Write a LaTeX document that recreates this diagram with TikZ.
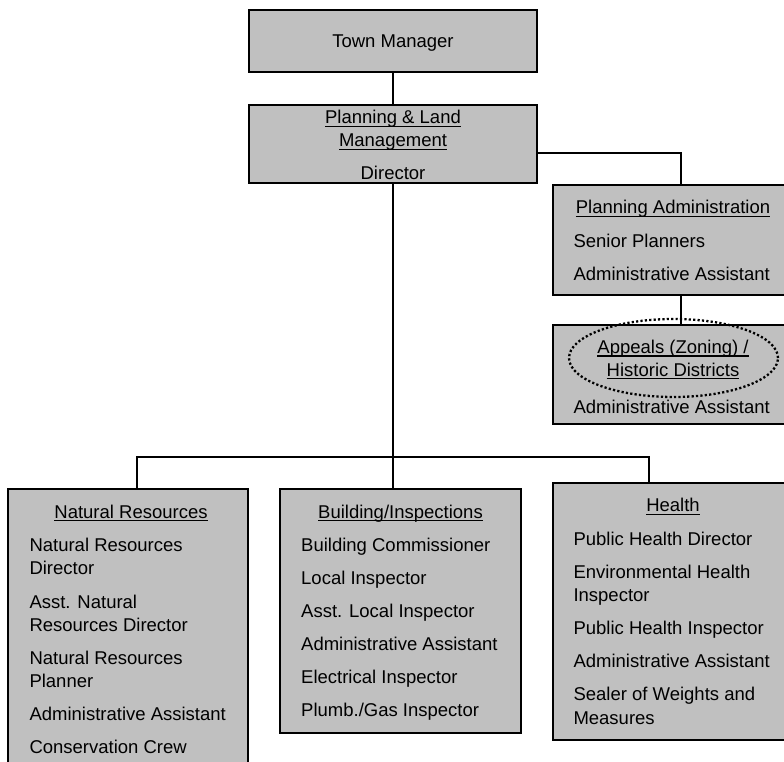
\documentclass[tikz,border=0pt]{standalone}
\usepackage{fontspec}
\setmainfont{Liberation Sans}
\usetikzlibrary{shapes.geometric}
\definecolor{boxgray}{RGB}{192,192,192}
\newsavebox\ulbox
\newcommand\myul[1]{\sbox\ulbox{#1}\rlap{\rule[-3.3pt]{\wd\ulbox}{1.5pt}}\usebox\ulbox}
\begin{document}
\begin{tikzpicture}[x=1pt,y=-1pt,
  box/.style={draw=black, fill=boxgray, line width=1.8pt, inner sep=0pt, rectangle},
  conn/.style={line width=1.8pt, draw=black},
  txt/.style={inner sep=0pt, anchor=base west, font=\fontsize{18.5}{23}\selectfont},
  ctxt/.style={inner sep=0pt, anchor=base, font=\fontsize{18.5}{23}\selectfont},
  dotring/.style={draw=black, ellipse, line width=2.3pt, dash pattern=on 2.2pt off 2.2pt, inner sep=0pt}
  ]
\useasboundingbox (0,0) rectangle (784,762);
\clip (0,0) rectangle (784,762);
\fill[white] (0,0) rectangle (784,762);

% boxes
\node[box, minimum width=288, minimum height=62] (tm) at (393,41) {};
\node[box, minimum width=288, minimum height=78] (plm) at (393,144) {};
\node[box, minimum width=256, minimum height=110] (pa) at (681,240) {};
\node[box, minimum width=256, minimum height=99] (ap) at (681,374.5) {};
\node[box, minimum width=240, minimum height=286] (nr) at (128,632) {};
\node[box, minimum width=241, minimum height=244] (bi) at (400.5,611) {};
\node[box, minimum width=240, minimum height=257] (he) at (673,611.5) {};

% connectors
\coordinate (j) at (393,457);
\draw[conn] (tm.south) -- (plm.north);
\draw[conn] ([yshift=-9pt]plm.east) -| (pa.north);
\draw[conn] (pa.south) -- (ap.north);
\draw[conn] (plm.south) -- (plm.south |- bi.north);
\draw[conn] ([xshift=9pt]nr.north) |- (j) -| ([xshift=-24pt]he.north);

% Town Manager
\node[ctxt] (tmt) at (393,48) {Town Manager};
% Planning & Land Management
\node[ctxt] (plm1) at (393,124) {\myul{Planning \& Land}};
\node[ctxt] (plm2) at (393,147) {\myul{Management}};
\node[ctxt] (plm3) at (393,180) {Director};
% Planning Administration
\node[ctxt] (pa0) at (673,214) {\myul{Planning Administration}};
\node[txt] (pa1) at (573.3,247) {Senior Planners};
\node[txt] (pa2) at (573.3,280) {Administrative Assistant};
% Appeals
\node[ctxt] (ap0) at (673,353.5) {\myul{Appeals (Zoning) /}};
\node[ctxt] (ap1) at (673,376) {\myul{Historic Districts}};
\node[txt] (ap2) at (573.3,413) {Administrative Assistant};
\node[dotring, minimum width=209, minimum height=78] (ring) at (673.5,358) {};
% Natural Resources
\node[ctxt] (nr0) at (131,518) {\myul{Natural Resources}};
\node[txt] (nr1) at (29.3,551.5) {Natural Resources};
\node[txt] (nr2) at (29.3,574.5) {Director};
\node[txt] (nr3) at (29.3,608) {Asst. Natural};
\node[txt] (nr4) at (29.3,631) {Resources Director};
\node[txt] (nr5) at (29.3,664) {Natural Resources};
\node[txt] (nr6) at (29.3,687) {Planner};
\node[txt] (nr7) at (29.3,720) {Administrative Assistant};
\node[txt] (nr8) at (29.3,753) {Conservation Crew};
% Building/Inspections
\node[ctxt] (bi0) at (400.5,518) {\myul{Building/Inspections}};
\node[txt] (bi1) at (301,551.5) {Building Commissioner};
\node[txt] (bi2) at (301,584.5) {Local Inspector};
\node[txt] (bi3) at (301,617.5) {Asst. Local Inspector};
\node[txt] (bi4) at (301,650.5) {Administrative Assistant};
\node[txt] (bi5) at (301,683.5) {Electrical Inspector};
\node[txt] (bi6) at (301,716.5) {Plumb./Gas Inspector};
% Health
\node[ctxt] (he0) at (673,511.7) {\myul{Health}};
\node[txt] (he1) at (573.3,545.7) {Public Health Director};
\node[txt] (he2) at (573.3,578.3) {Environmental Health};
\node[txt] (he3) at (573.3,601.3) {Inspector};
\node[txt] (he4) at (573.3,634.3) {Public Health Inspector};
\node[txt] (he5) at (573.3,667.3) {Administrative Assistant};
\node[txt] (he6) at (573.3,700.7) {Sealer of Weights and};
\node[txt] (he7) at (573.3,724) {Measures};
\end{tikzpicture}
\end{document}
